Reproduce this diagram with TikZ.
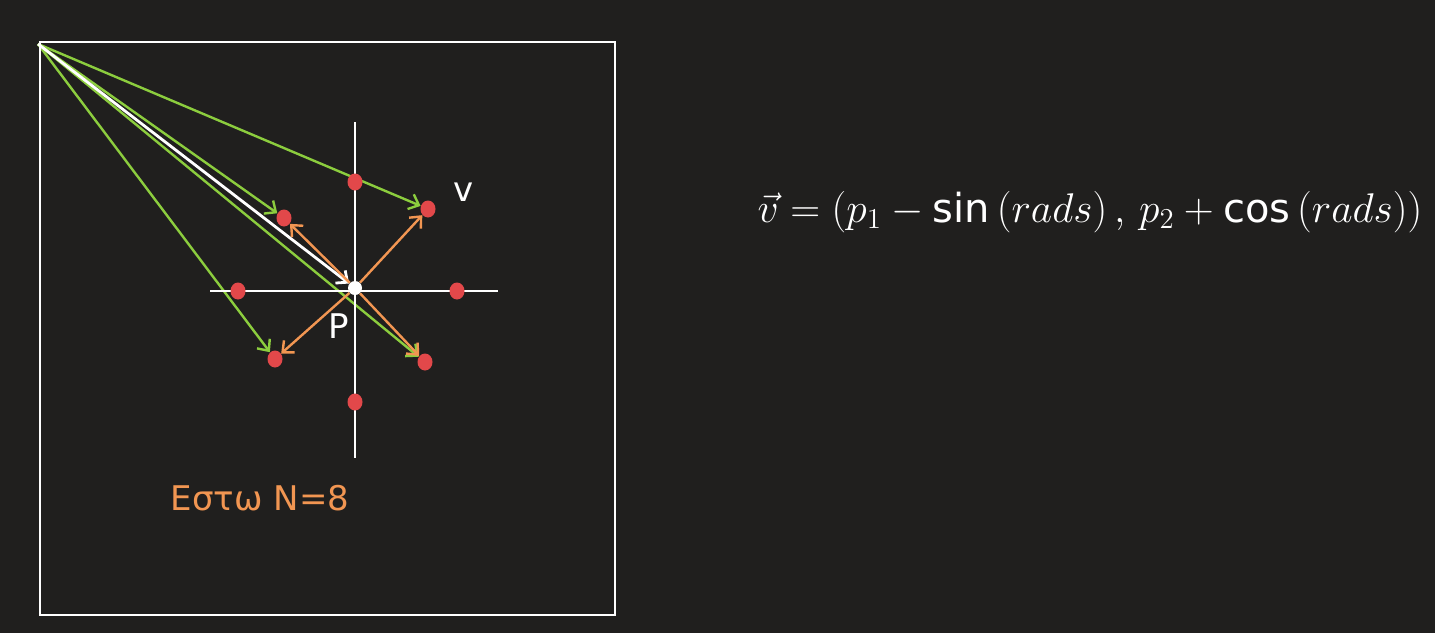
\documentclass[tikz,border=0pt]{standalone}
\usepackage{fontspec}
\setmainfont{DejaVu Sans}
\usetikzlibrary{positioning,arrows.meta,shapes.geometric}
\definecolor{boardbg}{RGB}{32,31,30}
\definecolor{chalkgreen}{RGB}{140,205,62}
\definecolor{chalkorange}{RGB}{242,150,82}
\definecolor{chalkred}{RGB}{226,72,74}
\pgfdeclarelayer{board}
\pgfdeclarelayer{edges}
\pgfsetlayers{board,edges,main}

\begin{document}
\begin{tikzpicture}[
    x=0.5pt, y=-0.5pt,
    >={Straight Barb[length=4.5pt,width=8pt]},
    dot/.style={ellipse, fill=chalkred, inner sep=0pt, minimum width=7.5pt, minimum height=8.5pt},
    pdot/.style={circle, fill=white, inner sep=0pt, minimum size=7pt},
    garrow/.style={->, chalkgreen, line width=1.2pt},
    oarrow/.style={->, chalkorange, line width=1.2pt},
    warrow/.style={->, white, line width=1.4pt},
    axisline/.style={white, line width=1.3pt},
    lbl/.style={text=white, font=\fontsize{17}{19}\selectfont}
]
\useasboundingbox (0,0) rectangle (1435,633);
\begin{pgfonlayer}{board}
\fill[boardbg] (0,0) rectangle (1435,633);
\end{pgfonlayer}

% frame
\draw[white, line width=1.3pt] (40,42) rectangle (615,615);

% axes through P
\draw[axisline] (355,122) -- (355,458);
\draw[axisline] (210,291) -- (498,291);

% origin and center
\coordinate (o) at (38,44);
\node[pdot] (p) at (355,288) {};

% the N=8 points
\node[dot] (n) at (355,182) {};
\node[dot] (s) at (355,402) {};
\node[dot] (w) at (238,291) {};
\node[dot] (e) at (457,291) {};
\node[dot] (ne) at (428,209) {};
\node[dot] (nw) at (284,218) {};
\node[dot] (sw) at (275,359) {};
\node[dot] (se) at (425,362) {};

\begin{pgfonlayer}{edges}
% from the corner
\draw[garrow] (o) -- (ne);
\draw[garrow] (o) -- (nw);
\draw[garrow] (o) -- (sw);
\draw[garrow] (o) -- (se);
\draw[warrow] (o) -- (p);
% from P
\draw[oarrow] (p) -- (ne);
\draw[oarrow] (p) -- (nw);
\draw[oarrow] (p) -- (sw);
\draw[oarrow] (p) -- (se);
\end{pgfonlayer}

% labels
\node[lbl] (vlbl) at (464,192) {v};
\node[lbl] (plbl) at (339,326) {P};
\node[text=chalkorange, font=\fontsize{17}{20}\selectfont] (note) at (260,498) {Εστω N=8};
\node[text=white, font=\fontsize{20}{24}\selectfont] (formula) at (1090,212)
  {$\vec{v} = \Big(p_1 - \sin\big(rads\big)\,,\, p_2 + \cos\big(rads\big)\Big)$};

\end{tikzpicture}
\end{document}
